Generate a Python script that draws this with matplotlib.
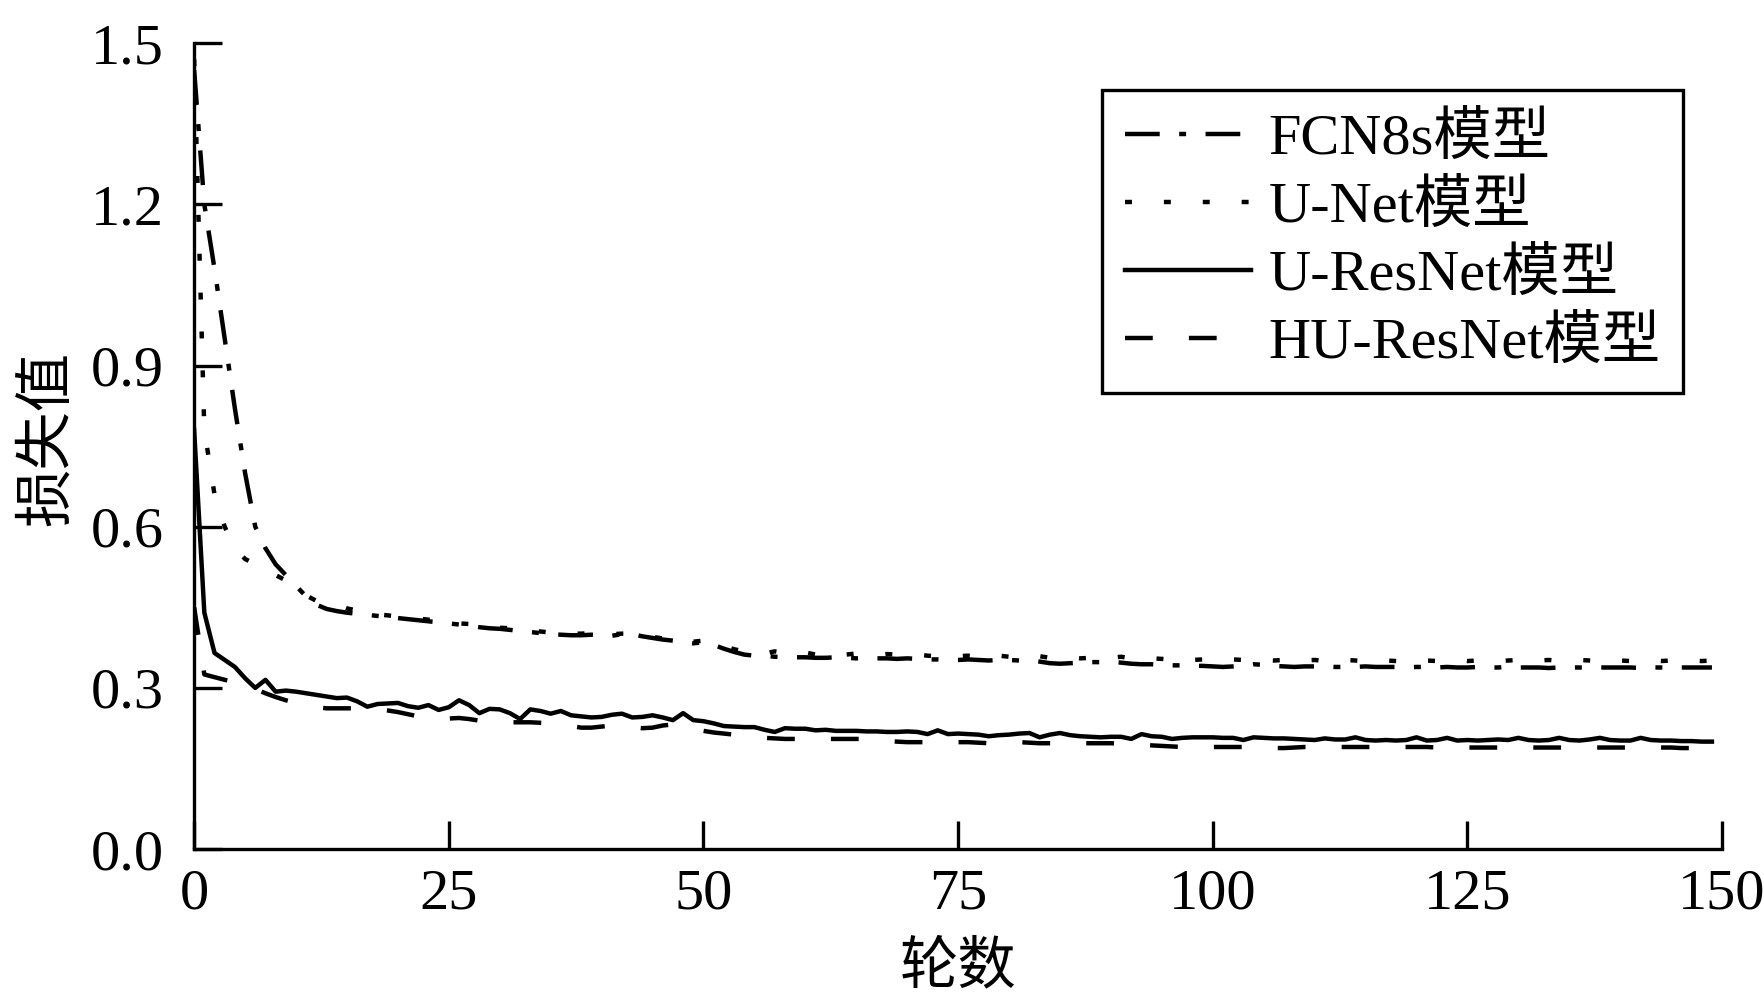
import matplotlib
matplotlib.use("Agg")
import matplotlib.pyplot as plt
import numpy as np

plt.rcParams['font.family'] = ['Liberation Serif', 'Noto Sans CJK SC', 'DejaVu Sans']
plt.rcParams['lines.scale_dashes'] = False

epochs = list(range(150))

fcn8s = [1.45, 1.20, 1.08, 0.95, 0.82, 0.70, 0.60, 0.56, 0.53, 0.51,
         0.49, 0.47, 0.455, 0.447, 0.443, 0.440, 0.438, 0.436, 0.434, 0.432,
         0.430, 0.428, 0.426, 0.424, 0.422, 0.420, 0.418, 0.416, 0.413, 0.411,
         0.410, 0.408, 0.406, 0.404, 0.402, 0.400, 0.399, 0.398, 0.398, 0.399,
         0.398, 0.397, 0.400, 0.400, 0.396, 0.393, 0.390, 0.388, 0.385, 0.383,
         0.385, 0.380, 0.373, 0.367, 0.362, 0.360, 0.360, 0.358, 0.357, 0.357,
         0.357, 0.356, 0.356, 0.357, 0.356, 0.355, 0.356, 0.355, 0.355, 0.354,
         0.355, 0.354, 0.353, 0.353, 0.352, 0.352, 0.353, 0.352, 0.351, 0.352,
         0.352, 0.351, 0.352, 0.349, 0.346, 0.345, 0.346, 0.347, 0.348, 0.348,
         0.349, 0.347, 0.345, 0.344, 0.344, 0.343, 0.342, 0.342, 0.341, 0.341,
         0.340, 0.339, 0.340, 0.341, 0.344, 0.343, 0.341, 0.340, 0.339, 0.340,
         0.340, 0.340, 0.339, 0.339, 0.339, 0.340, 0.339, 0.339, 0.339, 0.338,
         0.339, 0.339, 0.338, 0.339, 0.338, 0.338, 0.339, 0.338, 0.338, 0.339,
         0.338, 0.338, 0.338, 0.337, 0.338, 0.338, 0.338, 0.337, 0.338, 0.338,
         0.338, 0.338, 0.337, 0.338, 0.338, 0.338, 0.338, 0.338, 0.338, 0.338]

unet = [1.47, 0.78, 0.66, 0.60, 0.56, 0.54, 0.53, 0.52, 0.51, 0.50,
        0.485, 0.472, 0.462, 0.462, 0.455, 0.448, 0.444, 0.440, 0.437, 0.435,
        0.433, 0.432, 0.429, 0.427, 0.425, 0.423, 0.420, 0.419, 0.417, 0.414,
        0.412, 0.411, 0.409, 0.407, 0.405, 0.403, 0.402, 0.401, 0.401, 0.402,
        0.402, 0.400, 0.401, 0.401, 0.398, 0.395, 0.392, 0.390, 0.387, 0.386,
        0.388, 0.384, 0.378, 0.372, 0.368, 0.366, 0.364, 0.368, 0.365, 0.364,
        0.366, 0.362, 0.365, 0.364, 0.362, 0.364, 0.363, 0.361, 0.363, 0.362,
        0.360, 0.362, 0.360, 0.359, 0.361, 0.359, 0.360, 0.358, 0.359, 0.360,
        0.358, 0.359, 0.357, 0.359, 0.356, 0.355, 0.357, 0.355, 0.356, 0.357,
        0.356, 0.358, 0.355, 0.354, 0.355, 0.354, 0.352, 0.354, 0.352, 0.353,
        0.352, 0.351, 0.353, 0.352, 0.351, 0.352, 0.351, 0.352, 0.350, 0.351,
        0.352, 0.350, 0.351, 0.352, 0.351, 0.350, 0.352, 0.351, 0.350, 0.351,
        0.352, 0.351, 0.350, 0.351, 0.352, 0.350, 0.351, 0.351, 0.350, 0.351,
        0.352, 0.350, 0.351, 0.352, 0.350, 0.351, 0.352, 0.351, 0.350, 0.352,
        0.351, 0.350, 0.352, 0.351, 0.350, 0.351, 0.352, 0.351, 0.350, 0.351]

uresnet = [0.78, 0.44, 0.365, 0.352, 0.339, 0.318, 0.300, 0.315, 0.293, 0.295,
           0.293, 0.290, 0.287, 0.284, 0.281, 0.282, 0.275, 0.265, 0.270, 0.271,
           0.272, 0.266, 0.263, 0.268, 0.259, 0.264, 0.277, 0.268, 0.253, 0.261,
           0.260, 0.253, 0.242, 0.260, 0.257, 0.252, 0.257, 0.249, 0.247, 0.245,
           0.246, 0.250, 0.252, 0.245, 0.246, 0.249, 0.245, 0.240, 0.253, 0.240,
           0.238, 0.234, 0.229, 0.228, 0.227, 0.227, 0.222, 0.218, 0.225, 0.224,
           0.224, 0.221, 0.222, 0.220, 0.220, 0.220, 0.219, 0.219, 0.218, 0.218,
           0.219, 0.218, 0.214, 0.221, 0.214, 0.215, 0.214, 0.213, 0.210, 0.212,
           0.213, 0.215, 0.216, 0.208, 0.213, 0.216, 0.212, 0.210, 0.209, 0.208,
           0.209, 0.209, 0.205, 0.214, 0.210, 0.209, 0.205, 0.207, 0.208, 0.208,
           0.208, 0.207, 0.207, 0.203, 0.208, 0.207, 0.206, 0.206, 0.205, 0.204,
           0.203, 0.206, 0.204, 0.204, 0.208, 0.203, 0.202, 0.203, 0.202, 0.203,
           0.208, 0.202, 0.203, 0.207, 0.202, 0.203, 0.202, 0.203, 0.204, 0.203,
           0.207, 0.203, 0.202, 0.203, 0.207, 0.203, 0.202, 0.204, 0.207, 0.203,
           0.202, 0.202, 0.207, 0.203, 0.202, 0.202, 0.201, 0.201, 0.200, 0.200]

huresnet = [0.45, 0.325, 0.320, 0.315, 0.311, 0.305, 0.298, 0.290, 0.283, 0.277,
            0.272, 0.268, 0.264, 0.262, 0.262, 0.262, 0.262, 0.262, 0.260, 0.258,
            0.255, 0.251, 0.247, 0.243, 0.241, 0.243, 0.244, 0.242, 0.239, 0.237,
            0.236, 0.236, 0.236, 0.236, 0.235, 0.234, 0.232, 0.229, 0.226, 0.226,
            0.228, 0.230, 0.229, 0.227, 0.225, 0.226, 0.230, 0.232, 0.228, 0.224,
            0.220, 0.217, 0.215, 0.213, 0.210, 0.208, 0.207, 0.206, 0.205, 0.205,
            0.205, 0.205, 0.205, 0.205, 0.205, 0.205, 0.205, 0.203, 0.201, 0.200,
            0.199, 0.199, 0.199, 0.199, 0.199, 0.199, 0.199, 0.198, 0.197, 0.198,
            0.199, 0.199, 0.198, 0.197, 0.197, 0.197, 0.197, 0.197, 0.197, 0.197,
            0.197, 0.196, 0.195, 0.194, 0.193, 0.192, 0.191, 0.190, 0.190, 0.190,
            0.190, 0.190, 0.190, 0.190, 0.190, 0.189, 0.188, 0.188, 0.189, 0.190,
            0.190, 0.190, 0.190, 0.190, 0.190, 0.190, 0.190, 0.190, 0.190, 0.190,
            0.190, 0.190, 0.189, 0.189, 0.189, 0.189, 0.189, 0.189, 0.189, 0.189,
            0.189, 0.189, 0.189, 0.189, 0.189, 0.189, 0.189, 0.189, 0.189, 0.189,
            0.189, 0.189, 0.189, 0.189, 0.189, 0.189, 0.188, 0.188, 0.187, 0.186]

labels = ['FCN8s模型', 'U-Net模型', 'U-ResNet模型', 'HU-ResNet模型']
xticks = [0, 25, 50, 75, 100, 125, 150]
yticks = [0.0, 0.3, 0.6, 0.9, 1.2, 1.5]

fig = plt.figure(figsize=(17.65, 10.06), dpi=100)
ax = fig.add_axes([0.110, 0.156, 0.8657, 0.801])

lw = 3.2
ax.plot(epochs, fcn8s, color='black', lw=lw, dashes=(25, 14, 5, 14), label=labels[0])
ax.plot(epochs, unet, color='black', lw=lw, dashes=(5, 23), label=labels[1])
ax.plot(epochs, uresnet, color='black', lw=lw, label=labels[2])
ax.plot(epochs, huresnet, color='black', lw=lw, dashes=(20, 26), label=labels[3])

ax.set_xlim(0, 150)
ax.set_ylim(0, 1.5)
ax.set_xticks(xticks)
ax.set_xticklabels([str(v) for v in xticks])
ax.set_yticks(yticks)
ax.set_yticklabels([f'{v:.1f}' for v in yticks])

for s in ['top', 'right']:
    ax.spines[s].set_visible(False)
for s in ['left', 'bottom']:
    ax.spines[s].set_linewidth(2.4)

ax.tick_params(axis='both', direction='in', length=20, width=2.4, labelsize=42)
ax.tick_params(axis='y', pad=22)
ax.tick_params(axis='x', pad=14)

ax.set_xlabel('轮数', fontsize=42)
ax.set_ylabel('损失值', fontsize=42)
ax.xaxis.set_label_coords(0.5, -0.148)
ax.xaxis.label.set_va('center')
ax.yaxis.set_label_coords(-0.096, 0.509)
ax.yaxis.label.set_va('center')

leg = ax.legend(loc='upper right', bbox_to_anchor=(0.9745, 0.942), borderaxespad=0,
                fontsize=42, frameon=True, fancybox=False, framealpha=1,
                handlelength=2.17, handletextpad=0.3, labelspacing=0.24,
                borderpad=0.38)
leg.get_frame().set_edgecolor('black')
leg.get_frame().set_linewidth(2.4)

fig.savefig('out.png', dpi=100, facecolor='white')
